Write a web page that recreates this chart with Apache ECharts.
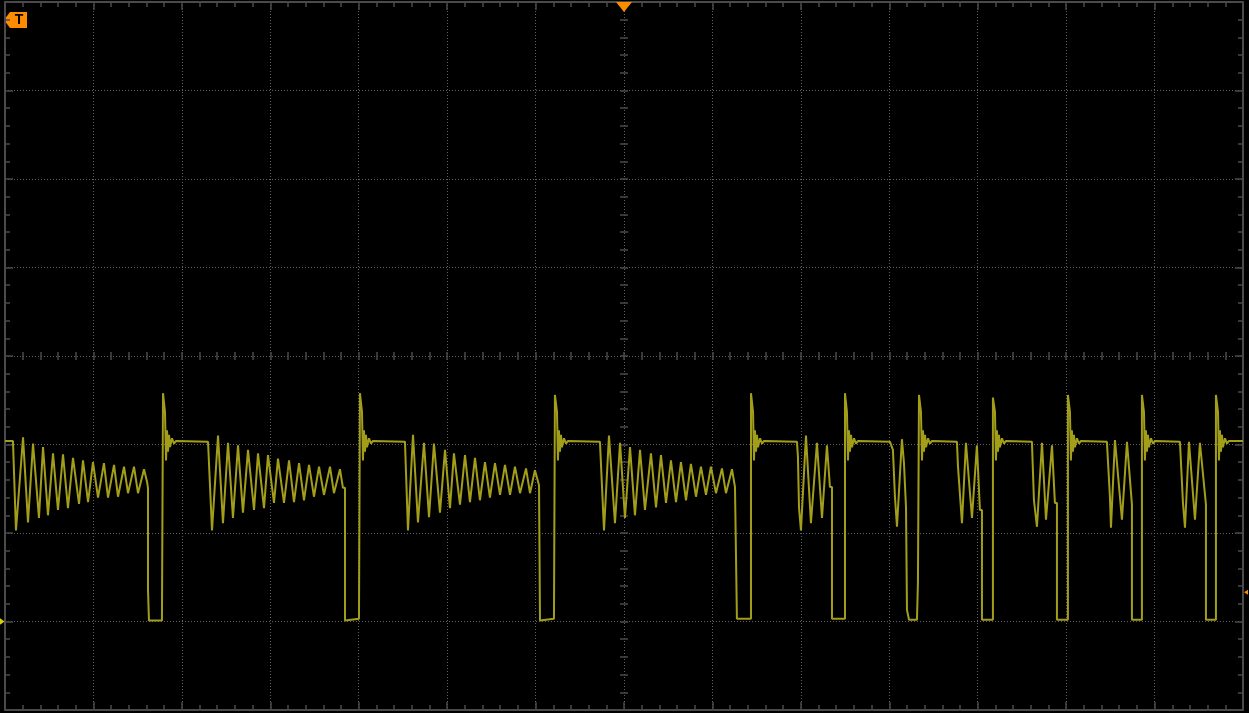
<!DOCTYPE html>
<html>
<head>
<meta charset="utf-8">
<script src="https://cdn.jsdelivr.net/npm/echarts@6/dist/echarts.min.js"></script>
<style>
html,body{margin:0;padding:0;background:#000;}
#chart{width:1249px;height:713px;}
</style>
</head>
<body>
<div id="chart"></div>
<script>
// Screen: 14 horizontal divisions (time), 8 vertical divisions (amplitude, -4..4)
const xDivisions = 14;
const yHalfDivisions = 4;
const triggerTime = 7;        // trigger position (centre of screen)
const channelGround = -3;     // channel 1 ground marker level
const triggerLevel = -2.67;   // trigger level marker

// Trace readings: [time (div), amplitude (div)]
const seg1 = [
 [0,-0.96],[0.090,-0.96],[0.124,-1.97],[0.204,-0.92],[0.260,-1.88],[0.317,-0.99],[0.384,-1.83],[0.430,-1.03],
 [0.486,-1.80],[0.543,-1.10],[0.599,-1.74],[0.656,-1.11],[0.712,-1.72],[0.769,-1.15],[0.837,-1.67],[0.882,-1.18],
 [0.939,-1.65],[0.995,-1.20],[1.052,-1.60],[1.119,-1.21],[1.165,-1.60],[1.233,-1.23],[1.278,-1.59],[1.346,-1.25],
 [1.391,-1.55],[1.459,-1.25],[1.504,-1.55],[1.572,-1.28],[1.606,-1.42],[1.617,-1.49],
 [1.617,-2.64],[1.628,-2.64],[1.628,-2.99],[1.775,-2.99],[1.775,-2.93],[1.787,-2.93],
 [1.787,-0.42],[1.809,-0.63],[1.821,-1.18],[1.832,-0.84],[1.843,-1.08],[1.855,-0.89],[1.866,-1.03],[1.888,-0.93],[1.911,-0.99],[1.934,-0.96]
];
const seg2 = [
 [2.296,-0.97],[2.341,-1.97],[2.409,-0.90],[2.465,-1.89],[2.522,-0.98],[2.578,-1.83],[2.635,-1.01],[2.691,-1.77],
 [2.748,-1.06],[2.816,-1.74],[2.861,-1.10],[2.929,-1.72],[2.974,-1.12],[3.042,-1.66],[3.087,-1.16],[3.155,-1.66],
 [3.212,-1.18],[3.268,-1.65],[3.325,-1.21],[3.381,-1.63],[3.438,-1.23],[3.494,-1.59],[3.551,-1.25],[3.607,-1.57],
 [3.675,-1.25],[3.720,-1.55],[3.788,-1.28],[3.822,-1.49],[3.845,-1.49],
 [3.845,-2.99],[4.003,-2.97],[4.014,-2.97],
 [4.014,-0.42],[4.037,-0.63],[4.048,-1.18],[4.059,-0.84],[4.071,-1.08],[4.082,-0.89],[4.093,-1.03],[4.116,-0.93],[4.139,-0.99],[4.161,-0.96]
];
const seg3 = [
 [4.523,-0.97],[4.557,-1.97],[4.614,-0.89],[4.670,-1.88],[4.738,-0.98],[4.795,-1.82],[4.851,-0.99],[4.919,-1.77],
 [4.976,-1.06],[5.032,-1.72],[5.077,-1.10],[5.145,-1.68],[5.202,-1.12],[5.258,-1.65],[5.315,-1.15],[5.371,-1.63],
 [5.428,-1.20],[5.484,-1.60],[5.541,-1.21],[5.598,-1.57],[5.654,-1.23],[5.711,-1.57],[5.767,-1.25],[5.824,-1.55],
 [5.892,-1.27],[5.937,-1.55],[5.993,-1.29],[6.039,-1.46],[6.050,-1.46],
 [6.050,-2.99],[6.208,-2.97],[6.219,-2.97],
 [6.219,-0.44],[6.242,-0.63],[6.253,-1.18],[6.264,-0.84],[6.276,-1.08],[6.287,-0.89],[6.298,-1.03],[6.321,-0.93],[6.344,-0.99],[6.366,-0.96]
];
const seg4 = [
 [6.728,-0.97],[6.774,-1.97],[6.830,-0.90],[6.898,-1.89],[6.955,-0.98],[7.011,-1.83],[7.068,-1.03],[7.124,-1.80],
 [7.181,-1.06],[7.237,-1.74],[7.305,-1.10],[7.362,-1.71],[7.418,-1.12],[7.475,-1.66],[7.531,-1.18],[7.588,-1.65],
 [7.644,-1.20],[7.701,-1.63],[7.757,-1.22],[7.814,-1.59],[7.870,-1.25],[7.927,-1.57],[7.983,-1.25],[8.040,-1.55],
 [8.108,-1.27],[8.153,-1.55],[8.221,-1.28],[8.255,-1.48],[8.277,-1.48],
 [8.277,-2.97],[8.436,-2.97],
 [8.436,-0.42],[8.459,-0.63],[8.470,-1.18],[8.481,-0.84],[8.493,-1.08],[8.504,-0.89],[8.515,-1.03],[8.538,-0.93],[8.561,-0.99],[8.583,-0.96]
];
const seg5 = [
 [8.956,-0.97],[8.967,-1.14],[8.979,-1.71],[9.001,-1.97],[9.058,-0.90],[9.114,-1.89],[9.182,-0.98],[9.239,-1.83],
 [9.295,-1.01],[9.329,-1.48],[9.352,-1.48],
 [9.352,-2.97],[9.499,-2.97],
 [9.499,-0.42],[9.521,-0.63],[9.533,-1.18],[9.544,-0.84],[9.555,-1.08],[9.567,-0.89],[9.578,-1.03],[9.601,-0.93],[9.623,-0.99],[9.646,-0.96]
];
const seg6 = [
 [10.008,-0.97],[10.041,-1.06],[10.064,-1.59],[10.087,-1.93],[10.143,-0.94],[10.166,-1.21],[10.189,-1.71],[10.200,-1.71],
 [10.200,-2.87],[10.223,-2.98],[10.313,-2.98],[10.324,-2.56],[10.336,-2.56],
 [10.336,-0.44],[10.358,-0.63],[10.370,-1.18],[10.381,-0.84],[10.392,-1.08],[10.404,-0.89],[10.415,-1.03],[10.438,-0.93],[10.460,-0.99],[10.483,-0.96]
];
const seg7 = [
 [10.765,-0.97],[10.777,-1.25],[10.822,-1.89],[10.867,-0.98],[10.935,-1.83],[10.991,-1.01],[11.025,-1.74],[11.048,-1.74],
 [11.048,-2.98],[11.172,-2.98],
 [11.172,-0.47],[11.195,-0.63],[11.206,-1.18],[11.217,-0.84],[11.229,-1.08],[11.240,-0.89],[11.251,-1.03],[11.274,-0.93],[11.297,-0.99],[11.319,-0.96]
];
const seg8 = [
 [11.613,-0.97],[11.636,-1.63],[11.670,-1.93],[11.727,-0.98],[11.772,-1.85],[11.840,-1.01],[11.873,-1.66],[11.896,-1.66],
 [11.896,-2.98],[12.020,-2.98],
 [12.020,-0.44],[12.043,-0.63],[12.054,-1.18],[12.065,-0.84],[12.077,-1.08],[12.088,-0.89],[12.099,-1.03],[12.122,-0.93],[12.145,-0.99],[12.167,-0.96]
];
const seg9 = [
 [12.461,-0.97],[12.495,-1.59],[12.507,-1.94],[12.552,-0.95],[12.631,-1.85],[12.688,-0.97],[12.744,-1.68],
 [12.744,-2.98],[12.857,-2.98],
 [12.857,-0.44],[12.880,-0.63],[12.891,-1.18],[12.902,-0.84],[12.914,-1.08],[12.925,-0.89],[12.936,-1.03],[12.959,-0.93],[12.982,-0.99],[13.004,-0.96]
];
const seg10 = [
 [13.287,-0.97],[13.321,-1.66],[13.344,-1.94],[13.389,-0.97],[13.457,-1.85],[13.513,-0.98],[13.581,-1.68],
 [13.581,-2.98],[13.694,-2.98],
 [13.694,-0.44],[13.717,-0.63],[13.728,-1.18],[13.739,-0.84],[13.751,-1.08],[13.762,-0.89],[13.773,-1.03],[13.796,-0.93],[13.819,-0.99],[13.841,-0.96],
 [14,-0.96]
];

const trace = [].concat(seg1, seg2, seg3, seg4, seg5, seg6, seg7, seg8, seg9, seg10);

const frameColor = '#4a4a4a';
const gridColor = '#616161';
const traceColor = '#a39e1a';
const orange = '#ff8c00';

function frameX(pos, withSplit) {
  return {
    type: 'value', position: pos, min: 0, max: xDivisions, interval: 1,
    axisLine: { show: true, onZero: false, lineStyle: { color: frameColor, width: 2 } },
    axisTick: { show: true, inside: true, length: 8, lineStyle: { color: frameColor, width: 1.5 } },
    minorTick: { show: true, splitNumber: 5, length: 5, lineStyle: { color: frameColor, width: 1.5 } },
    axisLabel: { show: false },
    splitLine: { show: withSplit, lineStyle: { color: gridColor, width: 1, type: [1, 2] } },
    minorSplitLine: { show: false }
  };
}
function frameY(pos, withSplit) {
  return {
    type: 'value', position: pos, min: -yHalfDivisions, max: yHalfDivisions, interval: 1,
    axisLine: { show: true, onZero: false, lineStyle: { color: frameColor, width: 2 } },
    axisTick: { show: true, inside: true, length: 8, lineStyle: { color: frameColor, width: 1.5 } },
    minorTick: { show: true, splitNumber: 5, length: 5, lineStyle: { color: frameColor, width: 1.5 } },
    axisLabel: { show: false },
    splitLine: { show: withSplit, lineStyle: { color: gridColor, width: 1, type: [1, 2] } },
    minorSplitLine: { show: false }
  };
}
function centreX(inside) {
  return {
    type: 'value', position: 'bottom', min: 0, max: xDivisions, interval: 1, offset: -354,
    axisLine: { show: false, onZero: false },
    axisTick: { show: true, inside: inside, length: 4, lineStyle: { color: frameColor, width: 1.5 } },
    minorTick: { show: true, splitNumber: 5, length: 4, lineStyle: { color: frameColor, width: 1.5 } },
    axisLabel: { show: false }, splitLine: { show: false }
  };
}
function centreY(inside) {
  return {
    type: 'value', position: 'left', min: -yHalfDivisions, max: yHalfDivisions, interval: 1, offset: -619,
    axisLine: { show: false, onZero: false },
    axisTick: { show: true, inside: inside, length: 4, lineStyle: { color: frameColor, width: 1.5 } },
    minorTick: { show: true, splitNumber: 5, length: 4, lineStyle: { color: frameColor, width: 1.5 } },
    axisLabel: { show: false }, splitLine: { show: false }
  };
}

const chart = echarts.init(document.getElementById('chart'), null, { renderer: 'canvas' });
chart.setOption({
  backgroundColor: '#000',
  animation: false,
  grid: { left: 5, top: 2, right: 6, bottom: 3, containLabel: false },
  xAxis: [frameX('bottom', true), frameX('top', false), centreX(true), centreX(false)],
  yAxis: [frameY('left', true), frameY('right', false), centreY(true), centreY(false)],
  series: [{
    type: 'line',
    xAxisIndex: 0, yAxisIndex: 0,
    data: trace,
    showSymbol: false,
    lineStyle: { color: traceColor, width: 2 },
    itemStyle: { color: traceColor },
    markPoint: {
      silent: true,
      label: { show: false },
      data: [
        { coord: [triggerTime, yHalfDivisions], symbol: 'triangle', symbolRotate: 180, symbolSize: [16, 10], symbolOffset: [0, 5], itemStyle: { color: orange } },
        { coord: [0, channelGround], symbol: 'triangle', symbolRotate: -90, symbolSize: [7, 5], symbolOffset: [-3, 0], itemStyle: { color: '#d6cf10' } },
        { coord: [xDivisions, triggerLevel], symbol: 'triangle', symbolRotate: 90, symbolSize: [5, 4], symbolOffset: [3, 0], itemStyle: { color: orange } }
      ]
    }
  }],
  graphic: [{
    type: 'group', left: 4, top: 12,
    children: [
      { type: 'polygon', shape: { points: [[0, 8], [6, 0], [23, 0], [23, 16], [6, 16]] }, style: { fill: orange } },
      { type: 'text', style: { text: 'T', x: 15, y: 1, font: 'bold 14px "Liberation Sans"', fill: '#000', align: 'center', verticalAlign: 'top' } }
    ]
  }]
});
</script>
</body>
</html>
